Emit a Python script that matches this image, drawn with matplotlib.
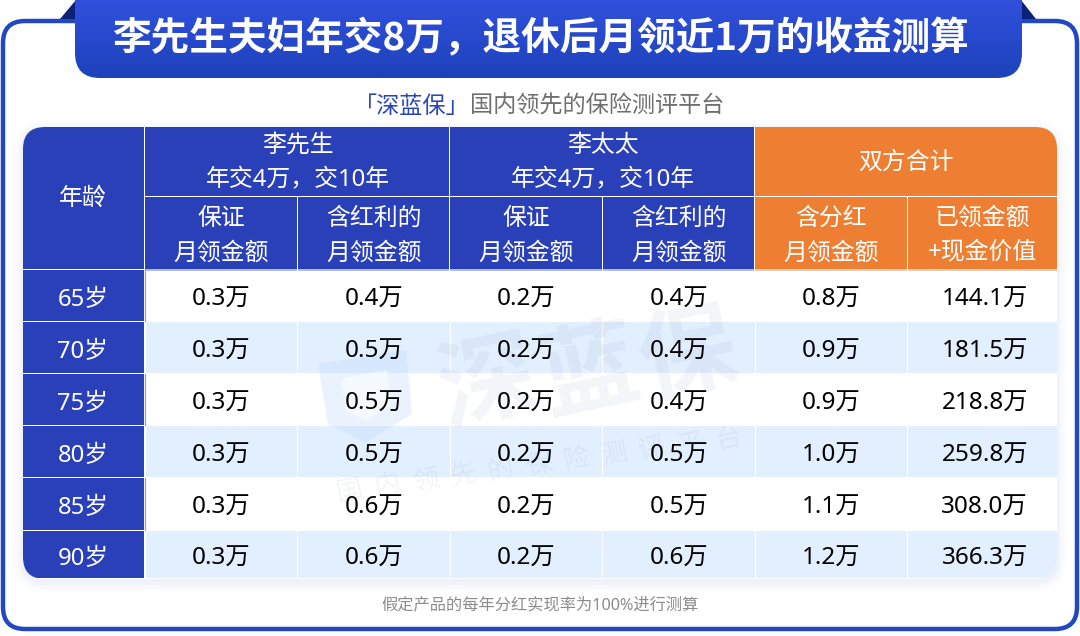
import matplotlib
matplotlib.use("Agg")
import matplotlib.pyplot as plt
from matplotlib.patches import FancyBboxPatch, Rectangle, Polygon
import numpy as np

plt.rcParams['font.family'] = ['Noto Sans', 'Noto Sans CJK SC', 'DejaVu Sans']

title = "李先生夫妇年交8万，退休后月领近1万的收益测算"
subtitle_brand = "「深蓝保」"
subtitle_rest = "国内领先的保险测评平台"
footnote = "假定产品的每年分红实现率为100%进行测算"

ages = ["65岁", "70岁", "75岁", "80岁", "85岁", "90岁"]
li_base = ["0.3万", "0.3万", "0.3万", "0.3万", "0.3万", "0.3万"]
li_bonus = ["0.4万", "0.5万", "0.5万", "0.5万", "0.6万", "0.6万"]
wife_base = ["0.2万", "0.2万", "0.2万", "0.2万", "0.2万", "0.2万"]
wife_bonus = ["0.4万", "0.4万", "0.4万", "0.5万", "0.5万", "0.6万"]
both_month = ["0.8万", "0.9万", "0.9万", "1.0万", "1.1万", "1.2万"]
both_total = ["144.1万", "181.5万", "218.8万", "259.8万", "308.0万", "366.3万"]
columns = [li_base, li_bonus, wife_base, wife_bonus, both_month, both_total]

group_heads = ["李先生\n年交4万，交10年", "李太太\n年交4万，交10年", "双方合计"]
sub_heads = ["保证\n月领金额", "含红利的\n月领金额", "保证\n月领金额", "含红利的\n月领金额",
             "含分红\n月领金额", "已领金额\n+现金价值"]

BLUE = "#2a40b8"
ORANGE = "#ed7e32"
LIGHT = "#e2efff"
FRAME = "#2247c2"

# column and row edges in pixels
col_x = [23, 145, 297.5, 450, 602.5, 755, 907.5, 1057]
row_y = [270, 322, 374, 426, 478, 531, 579]
head_y = [127, 197, 269]

fig = plt.figure(figsize=(10.8, 6.36), dpi=100)
ax = fig.add_axes([0, 0, 1, 1])
ax.set_xlim(0, 1080)
ax.set_ylim(636, 0)
ax.axis("off")


def rbox(x0, y0, x1, y1, r, **kw):
    p = FancyBboxPatch((x0 + r, y0 + r), x1 - x0 - 2 * r, y1 - y0 - 2 * r,
                       boxstyle="round,pad=%f,rounding_size=%f" % (r, r), **kw)
    ax.add_patch(p)
    return p


# outer frame
rbox(3, 21, 1077, 629, 22, fc="white", ec=FRAME, lw=3.2, zorder=1)

# ears behind the title
ax.add_patch(Polygon([[60, 19], [76, 0], [76, 19]], fc="#0b2277", ec="none", zorder=2))
ax.add_patch(Polygon([[1036, 19], [1021, 0], [1021, 19]], fc="#0b2277", ec="none", zorder=2))

# title banner with vertical gradient
clip = rbox(75, -40, 1022, 78, 25, fc="none", ec="none", zorder=3)
grad = np.linspace(0, 1, 80).reshape(-1, 1, 1)
top_c = np.array([0x30, 0x50, 0xdc]) / 255
bot_c = np.array([0x1e, 0x42, 0xbb]) / 255
im = ax.imshow(top_c + (bot_c - top_c) * grad, extent=(75, 1022, 78, 0), aspect="auto", zorder=3)
im.set_clip_path(clip)
ax.set_xlim(0, 1080)
ax.set_ylim(636, 0)
ax.text(540, 39, title, color="white", fontsize=27.85, fontweight="bold",
        family=['Noto Sans CJK SC', 'DejaVu Sans'], ha="center", va="center", zorder=4)

# subtitle
ax.text(470, 107, subtitle_brand, color="#2a45b5", fontsize=16.7, ha="right", va="center", zorder=4)
ax.text(470, 107, subtitle_rest, color="#6f6f6f", fontsize=16.7, ha="left", va="center", zorder=4)

# soft shadow under the table
for grow, a in zip([10, 7, 4, 2], [0.012, 0.016, 0.02, 0.025]):
    rbox(col_x[0] - grow, head_y[0] - grow + 3, col_x[-1] + grow, row_y[-1] + grow + 3, 22 + grow,
         fc="#3a5ac8", ec="none", alpha=a, zorder=1.5)

table_clip = rbox(col_x[0], head_y[0], col_x[-1], row_y[-1], 22, fc="white", ec="none", zorder=2)


def cell(x0, y0, x1, y1, color, z=3):
    r = Rectangle((x0, y0), x1 - x0, y1 - y0, fc=color, ec="none", zorder=z)
    ax.add_patch(r)
    r.set_clip_path(table_clip)


# header cells
cell(col_x[0], head_y[0], col_x[1] - 1, head_y[2] - 0.5, BLUE)
cell(col_x[1], head_y[0], col_x[3] - 1, head_y[1] - 1, BLUE)
cell(col_x[3], head_y[0], col_x[5] - 1, head_y[1] - 1, BLUE)
cell(col_x[5], head_y[0], col_x[7], head_y[1] - 1, ORANGE)
for i in range(6):
    c = BLUE if i < 4 else ORANGE
    x1 = col_x[i + 2] - 1 if i < 5 else col_x[7]
    cell(col_x[i + 1], head_y[1], x1, head_y[2], c)
    cell(col_x[i + 1], head_y[2], x1, head_y[2] + 2, "#b4bcd6" if i < 4 else "#e9d0bb")

ax.text((col_x[0] + col_x[1]) / 2 - 1, 199, "年龄", color="white", fontsize=17.2, ha="center", va="center", zorder=5)
for i, label in enumerate(group_heads):
    xc = (col_x[1 + 2 * i] + col_x[3 + 2 * i]) / 2
    ax.text(xc, 163, label, color="white", fontsize=17.2, ha="center", va="center",
            linespacing=1.6, zorder=5)
for i, label in enumerate(sub_heads):
    xc = (col_x[i + 1] + col_x[i + 2]) / 2
    ax.text(xc, 236, label, color="white", fontsize=17.2, ha="center", va="center",
            linespacing=1.6, zorder=5)

# body rows
for r, age in enumerate(ages):
    y0, y1 = row_y[r], row_y[r + 1] - 1
    cell(col_x[0], y0, col_x[1] - 1, y1, BLUE)
    yc = (row_y[r] + row_y[r + 1]) / 2 + 3.5
    ax.text((col_x[0] + col_x[1]) / 2 - 1, yc, age, color="white", fontsize=17.2, ha="center", va="center", zorder=5)
    if r % 2 == 1:
        for i in range(6):
            x1 = col_x[i + 2] - 0.5 if i < 5 else col_x[7]
            cell(col_x[i + 1] + 0.5, y0, x1, y1, LIGHT)
    else:
        ax.plot([col_x[1], col_x[1]], [y0, y1], color="#9aa3c4", lw=0.9, zorder=3.5)
    for i, col in enumerate(columns):
        xc = (col_x[i + 1] + col_x[i + 2]) / 2
        if i == 5:
            xc += 2.5
        ax.text(xc, yc, col[r], color="black", fontsize=17.5, ha="center", va="center", zorder=5)

# watermark logo and text
ax.add_patch(Polygon([[318, 364], [406, 350], [412, 414], [365, 443], [328, 424]],
                     fc="#bcd9fb", ec="none", alpha=0.3, zorder=4))
ax.add_patch(Polygon([[342, 378], [387, 370], [391, 405], [365, 421], [345, 410]],
                     fc="white", ec="none", alpha=0.5, zorder=4))
for ch, x, y in zip("深蓝保", [487, 590, 688], [385, 373, 357]):
    ax.text(x, y, ch, color="#5a6f96", alpha=0.07, fontsize=70, fontweight="bold",
            family=['Noto Sans CJK SC', 'DejaVu Sans'], rotation=12, ha="center", va="center", zorder=4)
slogan = subtitle_rest
for ch, x, y in zip(slogan, np.linspace(350, 728, len(slogan)), np.linspace(491, 439, len(slogan))):
    ax.text(x, y, ch, color="#5a6f96", alpha=0.07, fontsize=19, rotation=12,
            ha="center", va="center", zorder=4)

# footnote
ax.text(540, 605, footnote, color="#8c8c8c", fontsize=11.7, ha="center", va="center", zorder=4)

fig.savefig("out.png", dpi=100)
